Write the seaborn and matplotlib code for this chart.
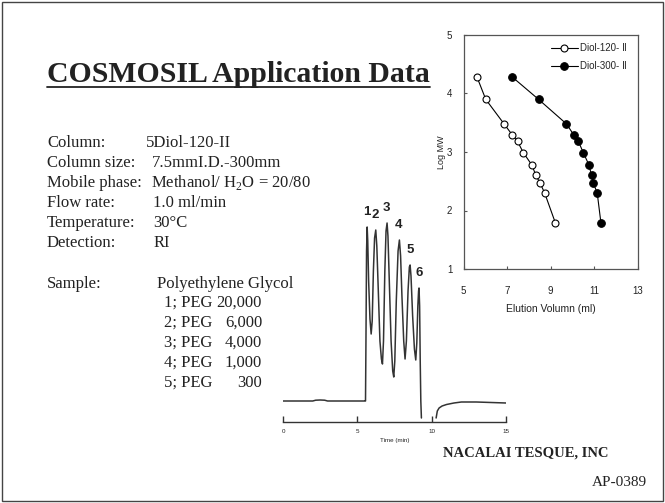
import numpy as np
import pandas as pd
import matplotlib
matplotlib.use('Agg')
import matplotlib.pyplot as plt
from matplotlib.patches import Rectangle
from matplotlib.lines import Line2D
import seaborn as sns

# calibration curves (log MW vs elution volume)
log_mw = [4.29, 3.90, 3.48, 3.29, 3.18, 2.99, 2.78, 2.60, 2.47, 2.30, 1.79]
vol_120 = [5.61, 6.02, 6.86, 7.24, 7.48, 7.74, 8.13, 8.32, 8.51, 8.72, 9.21]
vol_300 = [7.21, 8.44, 9.72, 10.06, 10.27, 10.49, 10.75, 10.87, 10.95, 11.13, 11.30]
series_names = ['Diol-120- \u2161', 'Diol-300- \u2161']

# chromatogram trace (time in min, detector signal)
chrom_time = [0.0, 1.0, 2.0, 2.2, 2.5, 2.8, 3.0, 4.0, 5.0, 5.50, 5.55,
              5.58, 5.62, 5.66, 5.70, 5.76, 5.85, 5.93, 6.00, 6.08, 6.16,
              6.24, 6.31, 6.40, 6.52, 6.62, 6.69, 6.76, 6.85, 6.93, 7.00,
              7.06, 7.15, 7.27, 7.38, 7.45, 7.52, 7.62, 7.74, 7.83, 7.91,
              8.00, 8.12, 8.21, 8.30, 8.41, 8.50, 8.55, 8.61, 8.72, 8.84,
              8.93, 9.00, 9.07, 9.12, 9.15, 9.19, 9.23, 9.27, 9.31]
chrom_signal = [0, 0, 0, 0.8, 1, 0.8, 0, 0, 0, 0, 0,
                60, 150, 174, 160, 120, 82, 67, 80, 130, 163,
                171, 155, 115, 60, 42, 37, 60, 130, 170, 178,
                165, 120, 60, 30, 24, 40, 100, 150, 161, 145,
                105, 60, 42, 60, 110, 134, 136, 125, 85, 52,
                41, 58, 95, 110, 113, 95, 40, 0, -17]
tail_time = [10.30, 10.38, 10.50, 10.70, 11.00, 11.50, 12.0, 13.0, 14.0, 15.0]
tail_signal = [-17, -10, -7, -5, -3.5, -2, -1, -1, -1.5, -2]

peak_names = ['1', '2', '3', '4', '5', '6']
peak_time = [5.64, 6.22, 6.98, 7.78, 8.54, 9.13]
peak_height = [174, 171, 178, 161, 136, 113]

# method conditions
cond_labels = ['Column:', 'Column size:', 'Mobile phase:', 'Flow rate:',
               'Temperature:', 'Detection:']
cond_values = ['5Diol-120-II', '7.5mmI.D.-300mm', r'Methanol/ H$_2$O = 20/80',
               '1.0 ml/min', '30\u00b0C', 'RI']
sample_ids = ['1; PEG', '2; PEG', '3; PEG', '4; PEG', '5; PEG']
sample_mw = ['20,000', '6,000', '4,000', '1,000', '300']

sns.set_theme(style='ticks')
plt.rcParams['font.family'] = ['Liberation Sans', 'DejaVu Sans']
plt.rcParams['mathtext.fontset'] = 'custom'
plt.rcParams['mathtext.rm'] = 'Liberation Serif'
serif = ['Liberation Serif', 'DejaVu Serif']
ink = '#222222'

W, H = 665, 503
fig = plt.figure(figsize=(6.65, 5.03), dpi=100)
fig.patch.set_facecolor('white')

def fx(px):
    return px / W

def fy(py):
    return 1 - py / H

# page border
fig.patches.append(Rectangle((fx(2), fy(501)), fx(661), 499 / H, transform=fig.transFigure,
                             fill=False, lw=1.0, ec='#444444'))

# title with underline
title = fig.text(fx(47), fy(82), 'COSMOSIL Application Data', family=serif,
                 fontweight='bold', fontsize=21.4, color=ink, va='baseline')
fig.canvas.draw()
bb = title.get_window_extent()
fig.add_artist(Line2D([bb.x0 / W, bb.x1 / W], [fy(87), fy(87)],
                      transform=fig.transFigure, color=ink, lw=1.3))

# conditions block
value_x = [146, 152, 151, 153, 153, 154]
for i, (lab, val) in enumerate(zip(cond_labels, cond_values)):
    yy = fy(143 + i * 20)
    fig.text(fx(47), yy, lab, family=serif, fontsize=12, color=ink, va='center')
    fig.text(fx(value_x[i]), yy, val, family=serif, fontsize=12, color=ink, va='center')

fig.text(fx(47), fy(284), 'Sample:', family=serif, fontsize=12, color=ink, va='center')
fig.text(fx(157), fy(284), 'Polyethylene Glycol', family=serif, fontsize=12,
         color=ink, va='center')
for i, (sid, mw) in enumerate(zip(sample_ids, sample_mw)):
    yy = fy(303 + i * 20)
    fig.text(fx(164), yy, sid, family=serif, fontsize=12, color=ink, va='center')
    fig.text(fx(262), yy, mw, family=serif, fontsize=12, color=ink, va='center', ha='right')

# chromatogram
ax1 = fig.add_axes([fx(283), fy(422), fx(223), 222 / H])
sns.lineplot(x=chrom_time, y=chrom_signal, ax=ax1, sort=False, color='#333333', lw=1.1)
sns.lineplot(x=tail_time, y=tail_signal, ax=ax1, sort=False, color='#333333', lw=1.1)
for name, t, h in zip(peak_names, peak_time, peak_height):
    ax1.annotate(name, (t, h), xytext=(0, 11), textcoords='offset points',
                 ha='center', va='center', fontsize=9.5, fontweight='bold', color=ink)
ax1.set_xlim(0, 15)
ax1.set_ylim(-21, 201)
ax1.set_xticks([0, 5, 10, 15])
ax1.set_yticks([])
for s in ['left', 'top', 'right']:
    ax1.spines[s].set_visible(False)
ax1.spines['bottom'].set_color('#333333')
ax1.spines['bottom'].set_linewidth(1.0)
ax1.tick_params(axis='x', direction='in', length=4.5, width=1.0, color='#333333',
                labelsize=4.5, pad=5, labelcolor=ink)
ax1.set_xlabel('Time (min)', fontsize=4.5, labelpad=3, color=ink)
ax1.patch.set_alpha(0)

# calibration plot
ax2 = fig.add_axes([fx(463.5), fy(269), fx(174.5), 234 / H])
sns.lineplot(x=vol_120, y=log_mw, ax=ax2, sort=False, color='black', lw=0.8,
             marker='o', markersize=5, markerfacecolor='white', markeredgecolor='black',
             markeredgewidth=0.8, label=series_names[0])
sns.lineplot(x=vol_300, y=log_mw, ax=ax2, sort=False, color='black', lw=0.8,
             marker='o', markersize=5.5, markerfacecolor='black', markeredgecolor='black',
             label=series_names[1])
ax2.set_xlim(5, 13)
ax2.set_ylim(1, 5)
ax2.set_xticks([5, 7, 9, 11, 13])
ax2.set_yticks([1, 2, 3, 4, 5])
for s in ax2.spines.values():
    s.set_color('#555555')
    s.set_linewidth(0.9)
ax2.tick_params(direction='in', length=2.5, width=0.8, color='#555555',
                labelsize=7, labelcolor=ink)
ax2.tick_params(axis='x', pad=12)
ax2.tick_params(axis='y', pad=8)
ax2.set_xlabel('Elution Volumn (ml)', fontsize=7.5, labelpad=6, color=ink)
ax2.set_ylabel('Log MW', fontsize=6.5, labelpad=1, color=ink)
ax2.legend(loc='upper left', bbox_to_anchor=(0.50, 0.965), frameon=False, fontsize=7,
           handlelength=2.8, handletextpad=0.25, labelspacing=0.85, borderpad=0,
           borderaxespad=0)

fig.text(fx(443), fy(453), 'NACALAI TESQUE, INC', family=serif, fontweight='bold',
         fontsize=10.5, color=ink, va='center')
fig.text(fx(647), fy(482), 'AP-0389', family=serif, fontsize=11, color=ink,
         va='center', ha='right')

fig.savefig('out.png', dpi=100)
